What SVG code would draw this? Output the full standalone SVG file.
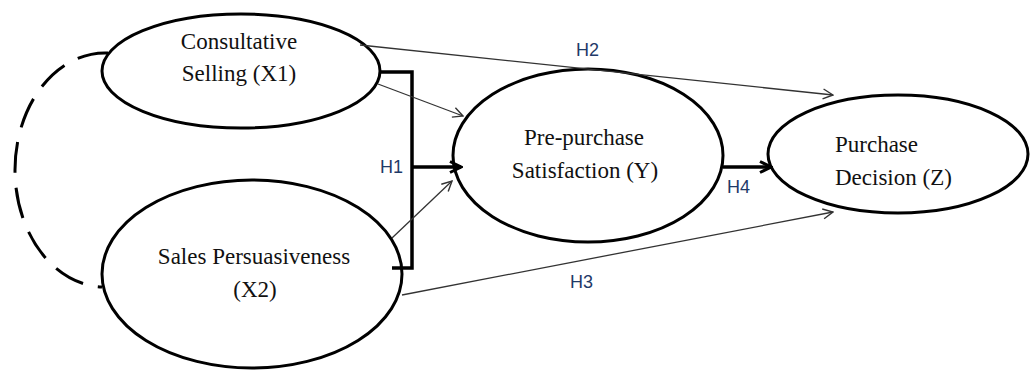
<svg xmlns="http://www.w3.org/2000/svg" width="1031" height="370" viewBox="0 0 1031 370">
  <defs>
    <style>
      .node { fill: #ffffff; stroke: #000000; stroke-width: 3; }
      .label { font-family: "Liberation Serif", "Times New Roman", serif; font-size: 23px; fill: #111111; }
      .hyp { font-family: "Liberation Sans", Arial, sans-serif; font-size: 18px; fill: #1f3a68; }
      .thin { fill: none; stroke: #333333; stroke-width: 1.3; }
      .thick { fill: none; stroke: #000000; stroke-width: 3.5; }
      .corr { fill: none; stroke: #000000; stroke-width: 3; stroke-dasharray: 31 15; }
    </style>
    <marker id="arrow-open" viewBox="0 0 12 12" refX="11" refY="6" markerWidth="12" markerHeight="12" markerUnits="userSpaceOnUse" orient="auto">
      <path d="M1,1 L11,6 L1,11" fill="none" stroke="#333333" stroke-width="1.4"/>
    </marker>
    <marker id="arrow-bold" viewBox="0 0 14 14" refX="12" refY="7" markerWidth="14" markerHeight="14" markerUnits="userSpaceOnUse" orient="auto">
      <path d="M1,1.5 L12,7 L1,12.5" fill="none" stroke="#000000" stroke-width="3"/>
    </marker>
  </defs>

  <rect width="1031" height="370" fill="#ffffff"/>

  <!-- latent constructs -->
  <g id="node-x1">
    <ellipse class="node" cx="241" cy="71" rx="139" ry="57"/>
    <text class="label" x="239" y="49" text-anchor="middle">Consultative</text>
    <text class="label" x="239" y="81" text-anchor="middle">Selling (X1)</text>
  </g>
  <g id="node-x2">
    <ellipse class="node" cx="252" cy="274" rx="150" ry="94"/>
    <text class="label" x="254" y="264" text-anchor="middle">Sales Persuasiveness</text>
    <text class="label" x="255" y="297" text-anchor="middle">(X2)</text>
  </g>
  <g id="node-y">
    <ellipse class="node" cx="588" cy="155.5" rx="135" ry="86.5"/>
    <text class="label" x="584" y="145" text-anchor="middle">Pre-purchase</text>
    <text class="label" x="585" y="178" text-anchor="middle">Satisfaction (Y)</text>
  </g>
  <g id="node-z">
    <ellipse class="node" cx="898" cy="154" rx="130" ry="59"/>
    <text class="label" x="835" y="152">Purchase</text>
    <text class="label" x="835" y="185">Decision (Z)</text>
  </g>

  <!-- paths between constructs -->
  <g id="connectors">
    <!-- correlation between X1 and X2 -->
    <path class="corr" d="M108,53 A90,117 0 0 0 15,170 A90,117 0 0 0 102,287"/>
    <!-- H1 joint bracket -->
    <path class="thick" d="M379,72 H412 V268 H392"/>
    <line class="thick" x1="412" y1="167" x2="461" y2="167" marker-end="url(#arrow-bold)"/>
    <!-- individual paths into Y -->
    <line class="thin" x1="378" y1="84" x2="463" y2="116" marker-end="url(#arrow-open)"/>
    <line class="thin" x1="392" y1="238" x2="452" y2="181" marker-end="url(#arrow-open)"/>
    <!-- H2: X1 to Z -->
    <line class="thin" x1="360" y1="45" x2="833" y2="95" marker-end="url(#arrow-open)"/>
    <!-- H3: X2 to Z -->
    <line class="thin" x1="402" y1="295" x2="833" y2="212" marker-end="url(#arrow-open)"/>
    <!-- H4: Y to Z -->
    <line class="thick" x1="723" y1="167" x2="771" y2="167" marker-end="url(#arrow-bold)"/>

    <text class="hyp" x="380" y="173">H1</text>
    <text class="hyp" x="576" y="56">H2</text>
    <text class="hyp" x="570" y="288">H3</text>
    <text class="hyp" x="727" y="193">H4</text>
  </g>
</svg>
